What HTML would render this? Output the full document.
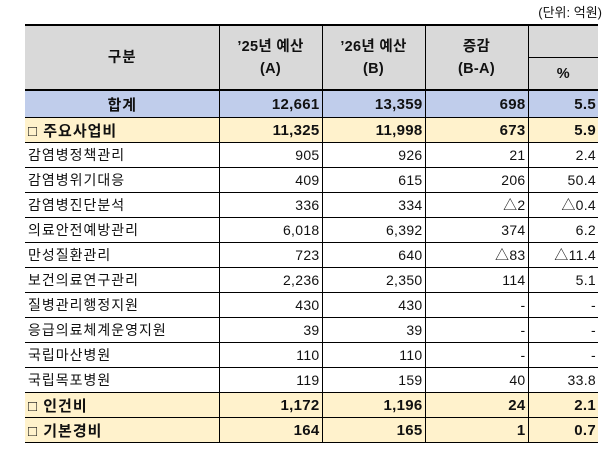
<!DOCTYPE html>
<html><head><meta charset="utf-8"><style>
body{margin:0;width:608px;height:449px;background:#fff;font-family:"Liberation Sans","Noto Sans CJK KR",sans-serif;font-size:14px;color:#111;position:relative;overflow:hidden}
.unit{position:absolute;right:6px;top:2px;font-size:13px}
table{position:absolute;left:25px;top:24px;border-collapse:collapse;table-layout:fixed}
td{padding:0 2px;white-space:nowrap;border-bottom:1px solid #000;border-right:1px solid #000;height:24px;text-align:right;overflow:hidden;letter-spacing:0.3px}
td:first-child{text-align:left;padding-left:3px;letter-spacing:1px}
td.l{border-right:none}
.h td{background:#d9d9d9;text-align:center;font-weight:bold;border-top:2px solid #000;font-size:14.5px;line-height:22px}
.sum td{background:#c0cdeb;font-weight:bold;height:26px;font-size:15px;border-top:2px solid #000}
.y td{background:#fff2cc;font-weight:bold;font-size:15px}
</style></head><body>
<div class="unit">(단위: 억원)</div>
<table>
<colgroup><col style="width:194px"><col style="width:103px"><col style="width:103px"><col style="width:103px"><col style="width:70px"></colgroup>
<tr class="h"><td rowspan="2" style="text-align:center;height:32px">구분</td><td rowspan="2">’25년 예산<br>(A)</td><td rowspan="2">’26년 예산<br>(B)</td><td rowspan="2">증감<br>(B-A)</td><td class="l" style="border-bottom:1px solid #000;height:31px"></td></tr>
<tr class="h"><td class="l" style="border-top:none;height:31px">%</td></tr>
<tr class="sum"><td style="text-align:center">합계</td><td>12,661</td><td>13,359</td><td>698</td><td class="l">5.5</td></tr>
<tr class="y"><td>□ 주요사업비</td><td>11,325</td><td>11,998</td><td>673</td><td class="l">5.9</td></tr>
<tr><td>감염병정책관리</td><td>905</td><td>926</td><td>21</td><td class="l">2.4</td></tr>
<tr><td>감염병위기대응</td><td>409</td><td>615</td><td>206</td><td class="l">50.4</td></tr>
<tr><td>감염병진단분석</td><td>336</td><td>334</td><td>△2</td><td class="l">△0.4</td></tr>
<tr><td>의료안전예방관리</td><td>6,018</td><td>6,392</td><td>374</td><td class="l">6.2</td></tr>
<tr><td>만성질환관리</td><td>723</td><td>640</td><td>△83</td><td class="l">△11.4</td></tr>
<tr><td>보건의료연구관리</td><td>2,236</td><td>2,350</td><td>114</td><td class="l">5.1</td></tr>
<tr><td>질병관리행정지원</td><td>430</td><td>430</td><td>-</td><td class="l">-</td></tr>
<tr><td>응급의료체계운영지원</td><td>39</td><td>39</td><td>-</td><td class="l">-</td></tr>
<tr><td>국립마산병원</td><td>110</td><td>110</td><td>-</td><td class="l">-</td></tr>
<tr><td>국립목포병원</td><td>119</td><td>159</td><td>40</td><td class="l">33.8</td></tr>
<tr class="y"><td>□ 인건비</td><td>1,172</td><td>1,196</td><td>24</td><td class="l">2.1</td></tr>
<tr class="y"><td>□ 기본경비</td><td>164</td><td>165</td><td>1</td><td class="l">0.7</td></tr>
</table>
</body></html>
